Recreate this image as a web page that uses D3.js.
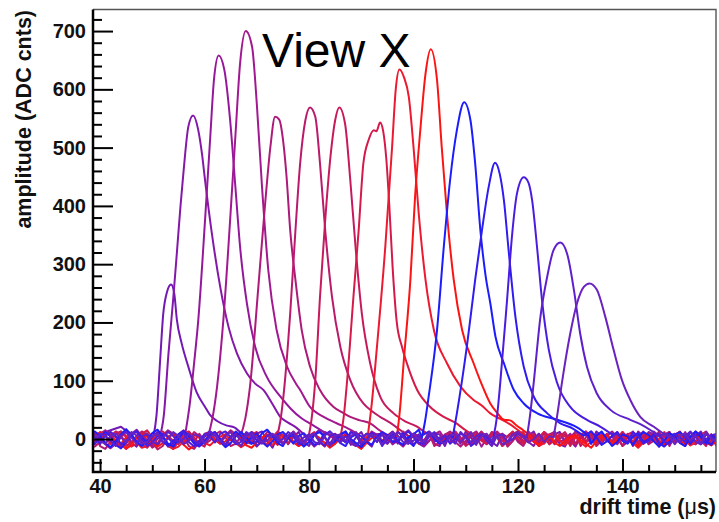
<!DOCTYPE html>
<html>
<head>
<meta charset="utf-8">
<script src="https://cdn.jsdelivr.net/npm/d3@7"></script>
<style>
  body { margin: 0; background: #fff; }
  svg { display: block; }
  .tick-label { font-family: "Liberation Sans", Arial, Helvetica, sans-serif; font-weight: bold; font-size: 20px; fill: #111; }
  .axis-title { font-family: "Liberation Sans", Arial, Helvetica, sans-serif; font-weight: bold; font-size: 21.5px; fill: #111; }
</style>
</head>
<body>
<div id="chart"></div>
<script>
// drift time waveforms, "View X"
// each trace = baseline samples (1 us grid from T0) + the pulse points

const T0 = 39;
const DT = 1;

const X_MAJOR = [40, 60, 80, 100, 120, 140];
const X_MINOR = [45, 50, 55, 65, 70, 75, 85, 90, 95, 105, 110, 115, 125, 130, 135, 145, 150, 155];
const Y_MAJOR = [0, 100, 200, 300, 400, 500, 600, 700];
const Y_MINOR = [-40, -20, 20, 40, 60, 80, 120, 140, 160, 180, 220, 240, 260, 280, 320, 340, 360, 380,
  420, 440, 460, 480, 520, 540, 560, 580, 620, 640, 660, 680, 720];

const COLORS = ["#7318b4", "#8418a8", "#95189c", "#a21890", "#ad1a7a", "#bb1a6a", "#c71a5c", "#d51a4a",
  "#ec1a30", "#fc1414", "#1c1cfc", "#2e1cf0", "#4a1ce0", "#5e20cc", "#6a22c0"];

// pulses: [drift time (us), amplitude (ADC)]
const pulse01 = [[50.2,3],[50.8,40],[51.5,135],[52.1,215],[52.8,252],[53.6,265],[54.2,250],[54.7,205],[55.6,165],[56.9,124],[58.5,80],[60.1,55],[61.0,42],[62.4,31],[64.3,23],[65.7,20],[66.8,12],[67.8,5]];
const pulse02 = [[51.4,3],[52.2,40],[53.1,147],[54.0,240],[54.7,319],[55.4,400],[56.0,461],[56.9,536],[57.8,555],[58.8,530],[59.5,490],[60.1,444],[61.4,353],[63.0,261],[64.6,192],[66.2,147],[68.1,113],[69.7,95],[71.3,84],[73.0,60],[74.5,38],[76.0,28],[77.5,20],[79.0,8]];
const pulse03 = [[56.2,3],[57.2,62],[58.0,130],[58.8,204],[60.1,376],[61.1,519],[61.8,616],[62.7,658],[63.8,633],[64.9,547],[65.9,433],[66.8,330],[68.1,233],[69.7,158],[71.9,107],[74.5,73],[76.5,52],[78.5,36],[80.5,25],[82.5,14],[84.0,6]];
const pulse04 = [[60.6,3],[61.5,35],[62.4,90],[63.6,204],[64.9,376],[65.9,519],[66.8,644],[67.9,700],[69.1,673],[70.0,576],[71.0,433],[72.2,290],[73.8,187],[75.8,124],[77.5,95],[78.3,84],[80.2,55],[82.8,38],[85.3,27],[87.5,18],[89.5,8]];
const pulse05 = [[66.8,3],[67.8,35],[68.7,90],[70.3,261],[71.6,404],[72.6,501],[73.5,553],[74.3,548],[75.0,515],[75.7,450],[76.4,358],[77.4,273],[78.6,187],[80.2,124],[82.1,84],[84.7,55],[86.5,45],[87.9,38],[89.8,32],[91.7,27],[93.5,15],[95.0,6]];
const pulse06 = [[73.8,3],[74.5,30],[75.1,73],[76.4,216],[77.4,358],[78.3,473],[79.3,547],[80.2,569],[81.2,553],[82.1,473],[83.1,358],[84.4,244],[86.0,158],[87.9,101],[90.4,61],[92.0,48],[93.6,38],[95.5,28],[97.5,15],[99.0,5]];
const pulse07 = [[79.9,3],[80.5,35],[81.2,101],[82.1,244],[83.1,376],[84.1,484],[85.0,547],[85.8,569],[86.9,541],[87.9,444],[88.9,330],[90.1,216],[91.7,130],[93.6,73],[96.2,44],[98.5,30],[100.5,22],[102.5,10],[104.0,4]];
const pulse08 = [[86.0,3],[86.6,35],[87.3,101],[88.5,244],[89.5,358],[90.4,473],[91.4,513],[92.4,530],[92.9,528],[93.6,543],[94.2,528],[94.8,480],[95.4,395],[96.0,295],[96.8,200],[97.8,158],[98.8,128],[100.7,84],[103.2,55],[105.8,38],[108.0,28],[110.0,15],[112.0,5]];
const pulse09 = [[91.2,3],[92.0,60],[93.0,158],[94.6,330],[95.9,501],[96.6,600],[97.3,634],[98.2,620],[99.1,587],[100.0,501],[101.0,387],[102.3,273],[103.9,187],[106.4,130],[109.0,90],[111.5,67],[113.0,58],[114.7,44],[116.5,35],[118.5,25],[120.5,12],[122.0,4]];
const pulse10 = [[96.8,3],[97.4,50],[98.1,130],[99.4,273],[100.3,416],[101.3,530],[102.3,627],[103.3,669],[104.5,616],[105.4,501],[106.4,387],[107.7,273],[109.3,187],[111.5,130],[113.0,95],[114.7,61],[116.0,45],[117.3,33],[118.5,32],[119.5,25],[121.0,15],[122.5,5]];
const pulse11 = [[101.6,3],[102.2,30],[102.9,73],[104.5,187],[105.8,330],[107.0,444],[108.3,530],[109.7,578],[110.9,547],[111.8,473],[112.8,358],[113.8,280],[114.7,233],[115.7,175],[117.3,130],[119.2,84],[121.1,61],[123.7,44],[127.5,33],[131.3,20],[133.5,6]];
const pulse12 = [[107.5,3],[108.3,44],[110.2,158],[111.8,273],[113.1,358],[114.4,433],[115.6,474],[116.5,455],[117.3,410],[118.2,324],[119.5,210],[121.1,124],[123.0,73],[125.6,44],[128.1,27],[130.5,18],[132.5,6]];
const pulse13 = [[115.3,3],[116.0,40],[116.6,96],[117.9,238],[118.9,353],[119.8,421],[121.1,449],[122.0,440],[122.7,410],[123.7,324],[124.6,238],[125.9,153],[127.5,96],[130.0,55],[133.2,33],[135.8,21],[138.0,8]];
const pulse14 = [[121.7,3],[122.3,40],[123.0,96],[124.3,210],[125.6,279],[126.8,324],[128.1,337],[129.4,318],[130.7,256],[131.9,181],[133.2,124],[135.1,78],[137.7,50],[141.5,33],[143.5,25],[145.4,15],[147.0,5]];
const pulse15 = [[126.8,3],[127.5,40],[128.4,96],[130.0,181],[131.3,233],[132.6,261],[133.7,267],[135.1,256],[136.7,210],[138.3,153],[139.9,101],[141.5,67],[143.4,38],[146.0,21],[148.0,8]];

// baseline noise, one sample per us starting at T0
const noise01 = [6,-9,12,15,18,21,14,-6,-13,8, 10,-3,5,-10,8,12,-6,3,9,-8, 5,13,-3,-10,8,3,-12,5,12,-5, -8,9,13,-3,-15,5,8,-9,3,12, -5,-12,8,16,3,-8,5,-3,9,-10, 3,12,-5,-13,8,9,-3,5,-8,13, 5,-9,-3,12,8,-5,3,-12,9,5, -8,13,3,-10,5,8,-5,-12,9,3, 12,-3,-8,5,13,-5,3,-9,8,12, -5,5,-12,3,9,-8,13,5,-3,-9, 8,3,-5,12,-8,9,-3,5,-13,8, 12,-5,3,9,-10,5,13,-3,-8,5];
const noise02 = [-9,3,13,8,-5,-15,-8,9,16,5, -3,-12,0,12,15,3,-8,-13,-3,9, 13,5,-9,-5,8,16,8,-8,-15,-5, 5,12,3,-5,9,15,5,-12,-8,3, 9,-3,-13,-5,12,8,-3,5,13,-8, -12,0,9,5,-5,12,3,-9,-3,8, 15,5,-8,-13,-3,9,8,-5,3,12, -3,-9,5,13,0,-8,9,3,-12,-5, 8,13,3,-5,-12,5,9,-3,8,-9, -13,3,12,8,-5,0,9,-8,5,13, 3,-12,-5,9,5,-3,12,8,-9,-3, 5,9,-5,-12,3,13,5,-8,0,8];
const noise03 = [12,5,-9,-16,-8,3,13,9,-5,0, 8,-8,-13,5,15,9,-3,-9,3,8, -5,12,16,3,-12,-5,9,5,-8,3, 13,-3,-9,8,12,-5,0,9,-12,-3, 5,13,8,-8,-12,3,9,0,-5,12, 8,-9,-3,13,5,-8,3,12,-5,-13, 0,9,5,-3,12,-8,-12,5,13,3, -5,8,-9,0,12,5,-8,9,3,-12, -3,13,8,-5,5,-9,12,3,-8,9, 5,-3,-13,8,12,0,-5,9,-3,5, -9,12,3,-8,13,5,-5,0,9,-12, 3,8,-3,12,-5,-9,5,13,0,-8];
const noise04 = [-3,9,15,5,-8,-12,0,8,13,-5, -9,3,12,5,-13,-8,8,15,3,-5, 9,-3,-12,5,13,8,-5,-9,3,12, 5,-8,0,13,9,-3,-12,5,8,-5, 12,3,-9,-3,8,15,5,-8,0,9, -5,-13,3,12,8,-3,5,-9,13,3, -8,9,5,-12,-3,8,13,0,-5,12, 3,-9,8,5,-13,0,12,8,-3,-8, 9,5,-5,13,3,-12,-3,8,12,-5, 0,9,-8,5,13,-3,-9,3,8,-5, 12,-3,5,-12,9,3,-8,13,5,-5, -9,8,12,-3,5,-8,0,9,3,-12];
const noise05 = [8,-12,-17,-5,9,13,3,-8,5,12, -3,-15,-9,8,13,5,-5,3,-12,-17, -5,9,12,0,-8,5,15,8,-9,-3, 5,-13,-8,9,3,-5,12,8,-3,-9, 0,13,5,-8,-15,-3,9,5,-5,8, 12,-3,-12,3,9,-8,5,13,-5,-12, -3,8,3,-9,12,5,-8,0,9,-5, -13,-3,8,12,0,-9,5,13,3,-8, 9,-5,-12,3,8,-3,12,5,-9,0, 8,-8,13,3,-5,9,-12,-3,5,12, -8,0,9,-5,3,13,-9,-3,8,5, -12,5,9,-3,-8,12,3,-5,8,-9];
const noise06 = [-13,-5,8,12,3,-9,-17,-8,5,13, 8,-5,-18,-12,3,9,5,-8,0,12, 5,-9,-3,8,13,3,-12,-8,5,9, -3,-13,0,12,8,-5,3,9,-8,-15, -5,8,12,-3,5,-9,0,13,3,-8, 9,-5,-12,5,8,-3,12,0,-9,3, 13,5,-8,-3,9,-12,-5,8,12,0, -5,9,-9,3,13,-8,-3,5,9,-13, -3,8,12,-5,0,9,-8,3,13,-3, -9,5,8,-12,3,12,-5,0,8,-8, 9,3,-5,13,-9,-3,8,5,-12,5, 12,-8,0,9,-3,-9,5,12,-5,3];
const noise07 = [9,3,-8,5,13,8,-12,-5,3,-9, -15,-5,9,13,5,-3,-9,8,12,3, -8,-13,5,9,-3,8,13,-5,-12,0, 8,12,-5,-9,3,13,5,-8,9,-3, -12,5,8,-5,12,3,-13,-3,9,5, -8,12,0,-9,5,13,-3,8,-12,-5, 3,9,-8,5,12,-5,-9,3,8,13, 0,-12,-5,9,3,-8,12,5,-3,-9, 8,13,-5,0,9,-12,3,8,-8,5, 12,-3,-9,5,13,3,-8,-3,9,-5, 5,-12,8,12,-3,-8,9,0,13,-9, -5,3,12,-8,5,9,-3,-12,8,3];
const noise08 = [-5,12,8,-9,-3,13,5,-13,-8,9, 15,3,-8,5,-12,-17,-5,9,13,0, -9,-3,8,12,-5,-13,3,9,5,-8, 12,8,-3,-12,5,9,-8,0,13,3, -9,5,12,-5,-13,3,8,-3,9,5, -8,-12,5,13,0,-5,9,3,-9,8, 12,-3,-13,5,8,-8,3,12,-5,0, 9,-9,5,13,-3,-8,8,3,-12,5, 13,0,-8,9,-5,3,12,-9,-3,8, 5,-12,3,9,-8,13,0,-5,8,-9, 3,12,-5,5,-13,8,9,-3,0,12, -8,5,13,-9,3,-5,8,12,-3,-8];
const noise09 = [8,11,5,-4,-11,-8,3,7,-6,-15, -12,-3,6,4,-9,-17,-13,-4,3,7, 2,-6,-11,-3,4,8,-2,-7,-14,-8, 0,6,3,-4,-10,-2,7,4,-6,-12, -4,3,8,2,-7,-15,-8,2,6,-3, -10,-4,4,7,-2,-11,-6,3,8,0, -7,-13,-3,6,2,-8,-4,4,7,-3, -11,-2,6,3,-7,-14,-6,4,8,-2, -8,-3,7,4,-4,-12,-7,2,6,-3, -10,0,4,-6,-13,-4,3,7,-2,-8, -3,6,2,-7,-15,-6,4,8,-3,-10, -4,3,7,-2,-11,-6,2,8,0,-7];
const noise10 = [-4,3,9,6,-3,-8,-16,-11,2,7, 4,-6,-13,-7,3,8,2,-10,-18,-12, -3,6,7,-2,-8,-4,4,8,0,-11, -15,-6,3,7,-3,-10,2,6,-4,-12, -7,4,8,0,-6,-13,-8,3,7,-2, -11,-17,-7,2,6,-3,-8,4,7,-4, -12,-6,3,8,0,-7,-14,-4,6,2, -8,-3,7,4,-6,-11,-2,6,-3,-13, -7,2,8,3,-4,-10,0,7,-6,-12, -3,4,7,-2,-8,-15,-4,3,6,-7, -2,8,3,-6,-12,-3,4,7,-4,-10, 0,6,-3,-8,-2,7,4,-6,-11,-3];
const noise11 = [13,5,-7,-14,-4,8,17,7,-5,-12, -3,10,16,4,-8,-13,0,12,7,-5, -10,4,13,8,-4,-14,-7,5,12,3, -8,-4,10,16,5,-7,-12,3,8,-3, -13,-5,7,12,4,-10,-4,8,13,0, -7,-14,-3,10,5,-5,4,12,-4,-10, 3,8,16,4,-8,-13,-3,7,10,-5, -12,0,13,7,-4,-10,5,12,3,-8, -4,10,5,-7,-13,3,8,14,4,-5, -10,-3,7,12,-4,-8,5,13,0,-12, -5,8,4,-10,3,12,7,-4,-13,-3, 10,5,-7,-12,4,13,3,-8,7,0];
const noise12 = [-8,4,12,5,-10,-16,-5,7,13,3, -7,5,10,-4,-12,-3,8,14,4,-8, -13,-4,7,12,0,-10,4,13,5,-7, 3,10,-5,-13,-4,8,12,3,-8,5, 10,0,-10,-5,7,13,4,-7,-12,3, 8,5,-4,-10,4,12,7,-5,-3,10, -4,-12,3,8,13,0,-8,-4,7,12, 5,-7,-13,-3,10,4,-5,8,13,-4, -10,3,7,-5,12,5,-8,-3,10,4, 8,-7,-12,0,7,13,3,-10,-4,5, 12,-3,-8,4,10,-5,0,8,-7,-13, -4,7,12,3,-8,5,10,-4,-10,4];
const noise13 = [3,-8,6,12,5,-9,-5,8,13,0, -12,-6,5,9,3,-8,6,12,-5,-13, -3,8,5,-6,9,13,3,-9,-5,6, 12,-3,-8,5,8,-6,0,12,5,-9, -5,6,9,-3,-12,5,8,3,-6,12, 6,-8,-3,9,5,-12,0,8,-5,6, 13,3,-6,-9,5,12,-3,6,-8,0, 9,5,-12,-5,8,3,-6,12,6,-3, -9,5,8,-5,0,12,-8,3,9,-6, 5,13,-3,-9,6,8,-5,3,-12,5, 9,0,-6,12,5,-8,-3,6,9,-5, -8,8,3,-5,12,5,-9,0,6,9];
const noise14 = [-6,9,5,-3,-12,6,12,3,-8,5, 8,-5,-9,3,12,6,-6,0,9,-3, -8,5,13,6,-5,-9,3,8,-3,12, 5,-12,-5,6,9,0,-8,5,12,-6, 3,8,-5,-9,6,13,3,-6,5,-3, -12,0,9,6,-5,8,-8,3,12,5, -6,-3,8,-9,5,9,-5,6,0,-8, 12,3,-6,5,9,-3,-12,6,8,-5, 0,9,5,-8,3,12,-6,-3,8,5, -9,6,12,-5,-3,8,3,-6,9,-8, 5,-5,8,12,-9,3,6,-3,-8,9, 6,0,-6,5,13,-5,-9,8,3,-3];
const noise15 = [8,-3,-9,5,9,3,-6,12,6,-8, -5,6,9,-6,0,12,5,-9,-3,8, 5,-8,3,9,-5,6,12,-3,-12,5, 9,3,-6,-3,8,5,-9,6,12,0, -8,5,9,-5,3,-12,6,8,-3,5, 12,-6,-3,8,5,-9,3,12,6,-5, -8,9,0,-6,12,5,-3,-9,6,8, -5,3,12,-8,5,9,-3,6,-9,-5, 8,12,3,-6,0,9,-5,5,-12,6, 9,-3,-8,5,12,0,-6,8,3,-9, 5,6,-5,12,-8,-3,9,5,-6,8, 3,-9,6,9,-3,5,-8,12,0,-5];

const PULSES = [pulse01, pulse02, pulse03, pulse04, pulse05, pulse06, pulse07, pulse08,
  pulse09, pulse10, pulse11, pulse12, pulse13, pulse14, pulse15];
const NOISE = [noise01, noise02, noise03, noise04, noise05, noise06, noise07, noise08,
  noise09, noise10, noise11, noise12, noise13, noise14, noise15];

const W = 719, H = 522;
const FRAME = { left: 93, right: 716, top: 9.5, bottom: 472 };

const svg = d3.select("#chart").append("svg")
  .attr("width", W)
  .attr("height", H);

svg.append("rect").attr("width", W).attr("height", H).attr("fill", "#fff");

const x = d3.scaleLinear().domain([38.65, 157.9]).range([FRAME.left, FRAME.right]);
const y = d3.scaleLinear().domain([-56.6, 737]).range([FRAME.bottom, FRAME.top]);

svg.append("clipPath").attr("id", "plot-clip")
  .append("rect")
  .attr("x", FRAME.left).attr("y", FRAME.top)
  .attr("width", FRAME.right - FRAME.left)
  .attr("height", FRAME.bottom - FRAME.top);

// traces: jagged baseline before/after, smooth pulse in between
const baseLine = d3.line()
  .x((d) => x(d[0]))
  .y((d) => y(d[1]));
const pulseLine = d3.line()
  .x((d) => x(d[0]))
  .y((d) => y(d[1]))
  .curve(d3.curveMonotoneX);

function traceSegments(pulse, noise, color) {
  const first = pulse[0];
  const last = pulse[pulse.length - 1];
  const samples = noise.map((v, i) => [T0 + i * DT, v]);
  const pre = samples.filter(([t]) => t < first[0]).concat([first]);
  const post = [last].concat(samples.filter(([t]) => t > last[0]));
  return [
    { color, d: baseLine(pre) },
    { color, d: pulseLine(pulse) },
    { color, d: baseLine(post) },
  ];
}

const segments = PULSES.flatMap((p, i) => traceSegments(p, NOISE[i], COLORS[i]));

svg.append("g")
  .attr("clip-path", "url(#plot-clip)")
  .selectAll("path")
  .data(segments)
  .join("path")
  .attr("d", (s) => s.d)
  .attr("fill", "none")
  .attr("stroke", (s) => s.color)
  .attr("stroke-width", 2)
  .attr("stroke-linejoin", "round")
  .attr("stroke-linecap", "round");

// frame (top / right)
svg.append("path")
  .attr("d", `M${FRAME.left},${FRAME.top}H${FRAME.right}V${FRAME.bottom}`)
  .attr("fill", "none")
  .attr("stroke", "#555")
  .attr("stroke-width", 1.4);

// y axis: ticks point inward
const yMajor = svg.append("g")
  .attr("transform", `translate(${FRAME.left},0)`)
  .call(d3.axisLeft(y).tickValues(Y_MAJOR).tickSize(-20).tickSizeOuter(0).tickPadding(7).tickFormat(d3.format("d")));
const yMinor = svg.append("g")
  .attr("transform", `translate(${FRAME.left},0)`)
  .call(d3.axisLeft(y).tickValues(Y_MINOR).tickSize(-9).tickSizeOuter(0).tickFormat(() => ""));

const xMajor = svg.append("g")
  .attr("transform", `translate(0,${FRAME.bottom})`)
  .call(d3.axisBottom(x).tickValues(X_MAJOR).tickSize(-13).tickSizeOuter(0).tickPadding(7).tickFormat(d3.format("d")));
const xMinor = svg.append("g")
  .attr("transform", `translate(0,${FRAME.bottom})`)
  .call(d3.axisBottom(x).tickValues(X_MINOR).tickSize(-7).tickSizeOuter(0).tickFormat(() => ""));

[yMajor, yMinor, xMajor, xMinor].forEach((g) => {
  g.select(".domain").remove();
  g.selectAll(".tick line").attr("stroke", "#000").attr("stroke-width", 2);
  g.selectAll(".tick text").attr("class", "tick-label").attr("font-family", null).attr("font-size", null).attr("fill", null);
});

// axis lines (left / bottom)
svg.append("path")
  .attr("d", `M${FRAME.left},${FRAME.top}V${FRAME.bottom}H${FRAME.right}`)
  .attr("fill", "none")
  .attr("stroke", "#000")
  .attr("stroke-width", 2.5);

// titles
svg.append("text")
  .attr("class", "axis-title")
  .attr("transform", `translate(31,10)rotate(-90)`)
  .attr("text-anchor", "end")
  .text("amplitude (ADC cnts)");

const xt = svg.append("text")
  .attr("class", "axis-title")
  .attr("x", 716)
  .attr("y", 514)
  .attr("text-anchor", "end");
xt.append("tspan").text("drift time (");
xt.append("tspan").attr("font-weight", "normal").text("\u03bc");
xt.append("tspan").text("s)");

svg.append("text")
  .attr("x", 262)
  .attr("y", 67)
  .attr("font-family", "'Liberation Sans', Arial, Helvetica, sans-serif")
  .attr("font-size", 48)
  .attr("fill", "#000")
  .text("View X");
</script>
</body>
</html>
